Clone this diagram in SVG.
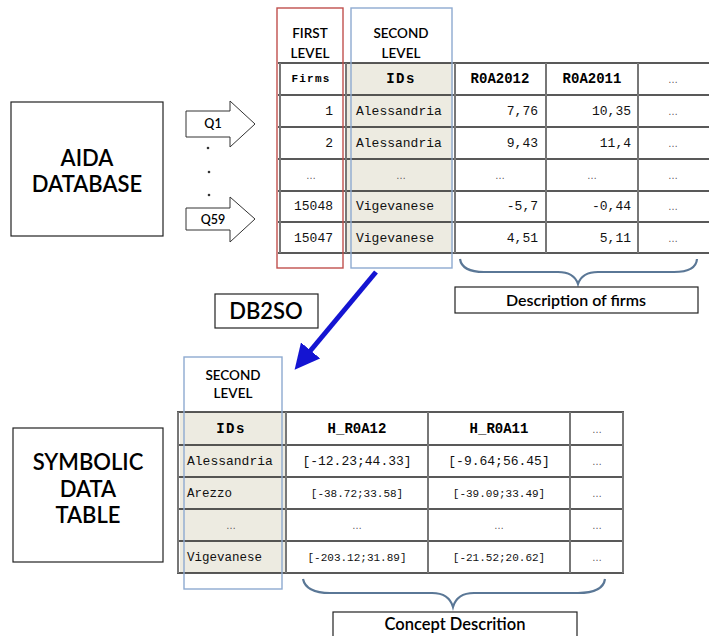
<svg xmlns="http://www.w3.org/2000/svg" width="709" height="636" viewBox="0 0 709 636">
<style>
.sans{font-family:Lato,"Open Sans","Liberation Sans",sans-serif;fill:#000;font-weight:600}
.mono{font-family:"Liberation Mono","Courier New",monospace;fill:#111}
.hdr{font-family:"Liberation Mono","Courier New",monospace;font-weight:bold;fill:#000}
.dots{font-family:"Liberation Sans",sans-serif;font-size:10px;fill:#555;text-anchor:middle}
.box{fill:#fff;stroke:#222;stroke-width:1.2}
.hl{stroke:#222;stroke-width:1.5}
.vl{stroke:#777;stroke-width:2}
.brace{fill:none;stroke:#5a7796;stroke-width:2.2}
</style>
<defs>
<marker id="bluehead" markerWidth="5" markerHeight="5" refX="3" refY="2.5" orient="auto" markerUnits="strokeWidth">
<path d="M0,0 L5,2.5 L0,5 Z" fill="#1414d2"/>
</marker>
</defs>
<rect width="709" height="636" fill="#fff"/>

<g id="aida">
<rect class="box" x="11" y="102" width="152" height="134"/>
<text class="sans" x="87" y="166" font-size="22" text-anchor="middle">AIDA</text>
<text class="sans" x="87" y="192" font-size="22" text-anchor="middle">DATABASE</text>
</g>

<g id="q1">
<polygon points="186,111 230,111 230,101 255,124 230,147 230,137 186,137" fill="#fff" stroke="#333" stroke-width="1"/>
<text class="sans" x="213" y="128" font-size="12.5" text-anchor="middle">Q1</text>
</g>
<g id="dots">
<circle cx="208" cy="148" r="1.3" fill="#333"/>
<circle cx="209" cy="172" r="1.3" fill="#333"/>
<circle cx="209" cy="195" r="1.3" fill="#333"/>
</g>
<g id="q59">
<polygon points="186,208 230,208 230,197 255,219 230,242 230,230 186,230" fill="#fff" stroke="#333" stroke-width="1"/>
<text class="sans" x="213" y="224" font-size="12.5" text-anchor="middle">Q59</text>
</g>

<g id="top-table">
<rect x="347" y="63" width="106" height="190" fill="#edebe1"/>
<g>
<line class="hl" x1="278" y1="63" x2="709" y2="63"/>
<line class="hl" x1="278" y1="95" x2="709" y2="95"/>
<line class="hl" x1="278" y1="127" x2="709" y2="127"/>
<line class="hl" x1="278" y1="159" x2="709" y2="159"/>
<line class="hl" x1="278" y1="191" x2="709" y2="191"/>
<line class="hl" x1="278" y1="222" x2="709" y2="222"/>
<line class="hl" x1="278" y1="253" x2="709" y2="253"/>
<line class="vl" x1="280" y1="63" x2="280" y2="253"/>
<line class="vl" x1="346" y1="63" x2="346" y2="253"/>
<line class="vl" x1="455" y1="63" x2="455" y2="253"/>
<line class="vl" x1="546" y1="63" x2="546" y2="253"/>
<line class="vl" x1="638" y1="63" x2="638" y2="253"/>
</g>
<text class="hdr" x="311" y="82" font-size="11" text-anchor="middle" letter-spacing="1.2">Firms</text>
<text class="hdr" x="401" y="83" font-size="14" text-anchor="middle" letter-spacing="1.5">IDs</text>
<text class="hdr" x="500" y="83" font-size="14" text-anchor="middle">R0A2012</text>
<text class="hdr" x="592" y="83" font-size="14" text-anchor="middle">R0A2011</text>
<text class="dots" x="673" y="83">…</text>

<g font-size="13" class="mono">
<text x="333" y="115" text-anchor="end">1</text>
<text x="356" y="115">Alessandria</text>
<text x="538" y="115" text-anchor="end">7,76</text>
<text x="631" y="115" text-anchor="end">10,35</text>
<text x="333" y="147" text-anchor="end">2</text>
<text x="356" y="147">Alessandria</text>
<text x="538" y="147" text-anchor="end">9,43</text>
<text x="631" y="147" text-anchor="end">11,4</text>
<text x="333" y="210" text-anchor="end">15048</text>
<text x="356" y="210">Vigevanese</text>
<text x="538" y="210" text-anchor="end">-5,7</text>
<text x="631" y="210" text-anchor="end">-0,44</text>
<text x="333" y="242" text-anchor="end">15047</text>
<text x="356" y="242">Vigevanese</text>
<text x="538" y="242" text-anchor="end">4,51</text>
<text x="631" y="242" text-anchor="end">5,11</text>
</g>
<text class="dots" x="673" y="115">…</text>
<text class="dots" x="673" y="147">…</text>
<text class="dots" x="311" y="179">…</text>
<text class="dots" x="401" y="179">…</text>
<text class="dots" x="500" y="179">…</text>
<text class="dots" x="592" y="179">…</text>
<text class="dots" x="673" y="179">…</text>
<text class="dots" x="673" y="210">…</text>
<text class="dots" x="673" y="242">…</text>
</g>

<g id="first-level">
<rect x="277" y="8" width="66" height="260" fill="none" stroke="#c0504d" stroke-width="1.4"/>
<text class="sans" x="310" y="38" font-size="13.5" text-anchor="middle">FIRST</text>
<text class="sans" x="310" y="58" font-size="13.5" text-anchor="middle">LEVEL</text>
</g>
<g id="second-level-top">
<rect x="351" y="8" width="101" height="260" fill="none" stroke="#8eaad0" stroke-width="1.4"/>
<text class="sans" x="401" y="38" font-size="13.5" text-anchor="middle">SECOND</text>
<text class="sans" x="401" y="58" font-size="13.5" text-anchor="middle">LEVEL</text>
</g>

<g id="desc-firms">
<path class="brace" d="M460,259 Q462,272 484,272 L558,272 Q574,272 578,284 Q582,272 598,272 L674,272 Q696,272 697,259"/>
<rect class="box" x="455" y="287" width="243" height="26"/>
<text class="sans" x="576" y="306" font-size="16" text-anchor="middle">Description of firms</text>
</g>

<g id="db2so">
<rect class="box" x="215" y="294" width="103" height="34"/>
<text class="sans" x="266" y="319" font-size="22" text-anchor="middle">DB2SO</text>
</g>

<g id="connectors">
<line x1="376" y1="272" x2="301" y2="362" stroke="#1414d2" stroke-width="5" marker-end="url(#bluehead)"/>
</g>

<g id="symbolic">
<rect class="box" x="13" y="428" width="150" height="134"/>
<text class="sans" x="88" y="470" font-size="22" text-anchor="middle">SYMBOLIC</text>
<text class="sans" x="88" y="497" font-size="22" text-anchor="middle">DATA</text>
<text class="sans" x="88" y="523" font-size="22" text-anchor="middle">TABLE</text>
</g>

<g id="bottom-table">
<rect x="180" y="412" width="105" height="161" fill="#edebe1"/>
<g>
<line class="hl" x1="177" y1="412" x2="624" y2="412"/>
<line class="hl" x1="177" y1="445" x2="624" y2="445"/>
<line class="hl" x1="177" y1="477" x2="624" y2="477"/>
<line class="hl" x1="177" y1="509" x2="624" y2="509"/>
<line class="hl" x1="177" y1="541" x2="624" y2="541"/>
<line class="hl" x1="177" y1="573" x2="624" y2="573"/>
<line class="vl" x1="178" y1="412" x2="178" y2="573"/>
<line class="vl" x1="286" y1="412" x2="286" y2="573"/>
<line class="vl" x1="428" y1="412" x2="428" y2="573"/>
<line class="vl" x1="570" y1="412" x2="570" y2="573"/>
<line class="vl" x1="623" y1="412" x2="623" y2="573"/>
</g>
<text class="hdr" x="231" y="433" font-size="14" text-anchor="middle" letter-spacing="1.5">IDs</text>
<text class="hdr" x="357" y="433" font-size="14" text-anchor="middle">H_R0A12</text>
<text class="hdr" x="499" y="433" font-size="14" text-anchor="middle">H_R0A11</text>
<text class="dots" x="597" y="433">…</text>
<text class="mono" x="187" y="465" font-size="13">Alessandria</text>
<text class="mono" x="357" y="465" font-size="13" text-anchor="middle">[-12.23;44.33]</text>
<text class="mono" x="499" y="465" font-size="13" text-anchor="middle">[-9.64;56.45]</text>
<text class="dots" x="597" y="465">…</text>
<text class="mono" x="187" y="497" font-size="12.5">Arezzo</text>
<text class="mono" x="357" y="497" font-size="11" text-anchor="middle">[-38.72;33.58]</text>
<text class="mono" x="499" y="497" font-size="11" text-anchor="middle">[-39.09;33.49]</text>
<text class="dots" x="597" y="497">…</text>
<text class="dots" x="231" y="529">…</text>
<text class="dots" x="357" y="529">…</text>
<text class="dots" x="499" y="529">…</text>
<text class="dots" x="597" y="529">…</text>
<text class="mono" x="187" y="561" font-size="12.5">Vigevanese</text>
<text class="mono" x="357" y="561" font-size="11" text-anchor="middle">[-203.12;31.89]</text>
<text class="mono" x="499" y="561" font-size="11" text-anchor="middle">[-21.52;20.62]</text>
<text class="dots" x="597" y="561">…</text>
</g>

<g id="second-level-bottom">
<rect x="184" y="357" width="98" height="232" fill="none" stroke="#8eaad0" stroke-width="1.4"/>
<text class="sans" x="233" y="380" font-size="13.5" text-anchor="middle">SECOND</text>
<text class="sans" x="233" y="398" font-size="13.5" text-anchor="middle">LEVEL</text>
</g>

<g id="concept">
<path class="brace" d="M303,579 Q306,593 330,593 L432,593 Q449,593 453,607 Q457,593 474,593 L578,593 Q603,593 605,579"/>
<rect class="box" x="333" y="612" width="244" height="30"/>
<text class="sans" x="455" y="630" font-size="16.5" text-anchor="middle">Concept Descrition</text>
</g>
</svg>
